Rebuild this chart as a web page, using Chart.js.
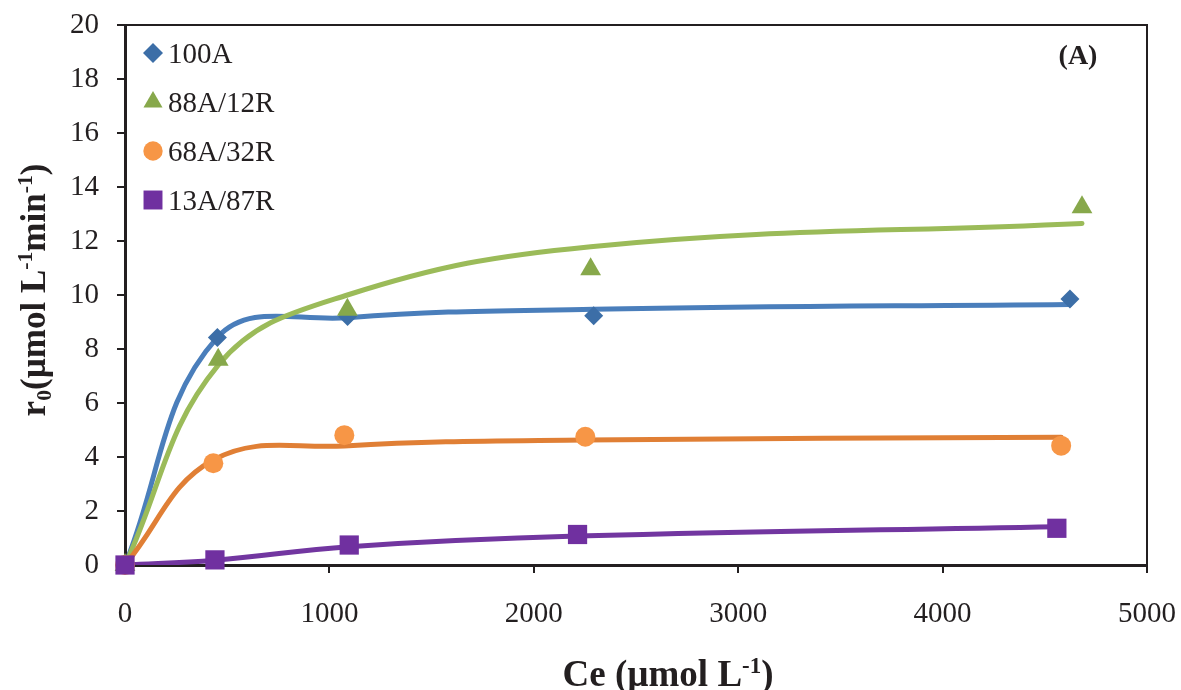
<!DOCTYPE html>
<html lang="en">
<head>
<meta charset="UTF-8">
<title>r0 vs Ce (A)</title>
<script src="https://cdn.jsdelivr.net/npm/chart.js"></script>
<style>
  html, body { margin: 0; padding: 0; background: #fff; }
  #wrap { width: 1181px; height: 690px; }
</style>
</head>
<body>
<div id="wrap"><canvas id="grafico" width="1181" height="690"></canvas></div>
<script>
// measured points (Ce in umol/L, r0 in umol/L/min)
const seriesNames = ['100A', '88A/12R', '68A/32R', '13A/87R'];
const ce100A = [0, 452, 1089, 2293, 4623];
const r100A  = [0, 8.43, 9.2, 9.23, 9.85];
const ce88A  = [0, 456, 1088, 2278, 4682];
const r88A   = [0, 7.6, 9.45, 10.95, 13.25];
const ce68A  = [0, 432, 1073, 2252, 4580];
const r68A   = [0, 3.77, 4.81, 4.75, 4.42];
const ce13A  = [0, 440, 1097, 2214, 4559];
const r13A   = [0, 0.19, 0.74, 1.13, 1.36];

// fitted curves at the same Ce values
const fit100A = [0, 8.43, 9.16, 9.47, 9.65];
const fit88A  = [0, 7.4, 10.0, 11.79, 12.65];
const fit68A  = [0, 3.89, 4.41, 4.63, 4.73];
const fit13A  = [0, 0.18, 0.68, 1.07, 1.42];

const xTicks = [0, 1000, 2000, 3000, 4000, 5000];
const yTicks = [0, 2, 4, 6, 8, 10, 12, 14, 16, 18, 20];

const ink = '#231f20';
const serif = "'Liberation Serif', 'Times New Roman', serif";

function pts(xs, ys) {
  return xs.map((x, i) => ({ x: x, y: ys[i] }));
}

const markerStyle = [
  { style: 'rectRot',  r: 9.5,  color: '#3c6ea7' },
  { style: 'triangle', r: 12,   color: '#87a84b' },
  { style: 'circle',   r: 10,   color: '#f79646' },
  { style: 'rect',     r: 13.6, color: '#7030a0' }
];
const lineColors = ['#4a7ebb', '#9bbb59', '#e07f35', '#7236a0'];

const measured = [pts(ce100A, r100A), pts(ce88A, r88A), pts(ce68A, r68A), pts(ce13A, r13A)];
const fitted = [pts(ce100A, fit100A), pts(ce88A, fit88A), pts(ce68A, fit68A), pts(ce13A, fit13A)];

const datasets = [];
fitted.forEach((d, i) => {
  datasets.push({
    label: seriesNames[i] + ' fit',
    data: d,
    showLine: true,
    borderColor: lineColors[i],
    borderWidth: 5,
    tension: 0.4,
    pointRadius: 0,
    borderCapStyle: 'round',
    order: 10 + (3 - i)
  });
});
measured.forEach((d, i) => {
  datasets.push({
    label: seriesNames[i],
    data: d,
    showLine: false,
    clip: false,
    pointStyle: markerStyle[i].style,
    pointRadius: markerStyle[i].r,
    backgroundColor: markerStyle[i].color,
    borderWidth: 0,
    order: 3 - i
  });
});

// superscript / subscript text helper
function richWidth(ctx, parts, size, bold) {
  let w = 0;
  parts.forEach(p => {
    const s = p[1] ? size * 0.62 : size;
    ctx.font = (bold ? 'bold ' : '') + s + 'px ' + serif;
    w += ctx.measureText(p[0]).width;
  });
  return w;
}
function drawRich(ctx, parts, size, bold, cx, baseline) {
  let x = cx - richWidth(ctx, parts, size, bold) / 2;
  ctx.textAlign = 'left';
  ctx.textBaseline = 'alphabetic';
  parts.forEach(p => {
    const s = p[1] ? size * 0.62 : size;
    ctx.font = (bold ? 'bold ' : '') + s + 'px ' + serif;
    let dy = 0;
    if (p[1] === 'sup') dy = -size * 0.36;
    if (p[1] === 'sub') dy = size * 0.18;
    ctx.fillText(p[0], x, baseline + dy);
    x += ctx.measureText(p[0]).width;
  });
}

const extras = {
  id: 'extras',
  afterDraw(chart) {
    const ctx = chart.ctx;
    const a = chart.chartArea;
    ctx.save();
    // top and right frame
    ctx.strokeStyle = ink;
    ctx.lineWidth = 2;
    ctx.beginPath();
    ctx.moveTo(a.left, a.top);
    ctx.lineTo(a.right, a.top);
    ctx.lineTo(a.right, a.bottom);
    ctx.stroke();

    // legend
    seriesNames.forEach((name, i) => {
      const y = 53 + i * 49;
      ctx.fillStyle = markerStyle[i].color;
      Chart.helpers.drawPoint(ctx, {
        pointStyle: markerStyle[i].style,
        radius: [10, 11, 9.7, 13.4][i],
        rotation: 0,
        borderWidth: 0
      }, 153, y);
      ctx.fillStyle = ink;
      ctx.font = '29px ' + serif;
      ctx.textAlign = 'left';
      ctx.textBaseline = 'alphabetic';
      ctx.fillText(name, 168, y + 10);
    });

    // panel tag
    ctx.font = 'bold 28px ' + serif;
    ctx.textAlign = 'center';
    ctx.fillText('(A)', 1078, 64);

    // axis titles
    drawRich(ctx, [['Ce (\u00b5mol L', ''], ['-1', 'sup'], [')', '']], 37, true, 668, 686);
    ctx.save();
    ctx.translate(45, 290);
    ctx.rotate(-Math.PI / 2);
    drawRich(ctx, [['r', ''], ['0', 'sub'], ['(\u00b5mol L', ''], ['-1', 'sup'], ['min', ''], ['-1', 'sup'], [')', '']], 35, true, 0, 0);
    ctx.restore();
    ctx.restore();
  }
};

new Chart(document.getElementById('grafico'), {
  type: 'scatter',
  data: { datasets: datasets },
  options: {
    responsive: false,
    animation: false,
    layout: { padding: { top: 25, right: 34, left: 0, bottom: 0 } },
    plugins: {
      legend: { display: false },
      tooltip: { enabled: false }
    },
    scales: {
      x: {
        type: 'linear',
        min: xTicks[0],
        max: xTicks[xTicks.length - 1],
        afterFit(scale) {
          scale.height = 125;
          scale.paddingLeft = 0;
          scale.paddingRight = 0;
        },
        afterBuildTicks(scale) { scale.ticks = xTicks.map(v => ({ value: v })); },
        ticks: {
          color: ink,
          font: { family: serif, size: 29 },
          padding: 24,
          callback: v => String(v)
        },
        grid: { drawOnChartArea: false, drawTicks: true, tickLength: 8, lineWidth: 2, color: ink },
        border: { display: true, width: 3, color: ink }
      },
      y: {
        type: 'linear',
        min: yTicks[0],
        max: yTicks[yTicks.length - 1],
        afterFit(scale) {
          scale.width = 125;
          scale.paddingTop = 0;
          scale.paddingBottom = 0;
        },
        afterBuildTicks(scale) { scale.ticks = yTicks.map(v => ({ value: v })); },
        ticks: { color: ink, font: { family: serif, size: 29 }, padding: 18 },
        grid: { drawOnChartArea: false, drawTicks: true, tickLength: 8, lineWidth: 2, color: ink },
        border: { display: true, width: 3, color: ink }
      }
    }
  },
  plugins: [extras]
});
</script>
</body>
</html>
